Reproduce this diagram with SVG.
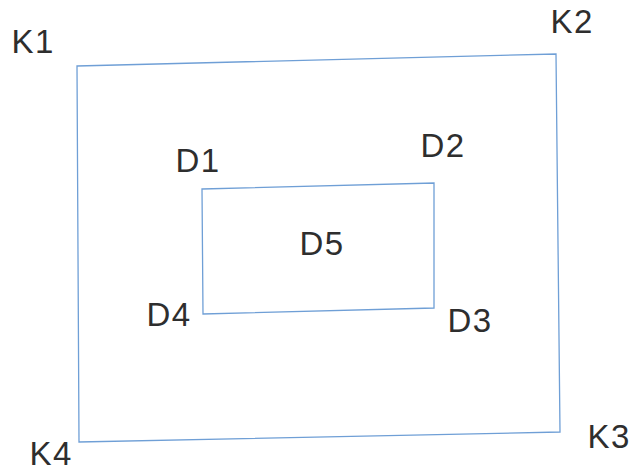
<svg xmlns="http://www.w3.org/2000/svg" width="636" height="473" viewBox="0 0 636 473">
<style>
.edge{fill:none;stroke:#6f9fd6;stroke-width:1.3;stroke-linejoin:miter}
.lbl{font-family:"Liberation Sans",Arial,sans-serif;font-size:33px;fill:#2e2e2e;letter-spacing:1.5px}
</style>
<rect width="636" height="473" fill="#ffffff"/>
<g id="shapes">
<polygon id="outer" class="edge" points="77,66 556,54 560,432 79,442"/>
<polygon id="inner" class="edge" points="202,189 434,183 434,308 203,314"/>
</g>
<g id="labels">
<text class="lbl" x="11.5" y="53">K1</text>
<text class="lbl" x="550.5" y="33">K2</text>
<text class="lbl" x="587.5" y="448">K3</text>
<text class="lbl" x="29.5" y="465">K4</text>
<text class="lbl" x="175.4" y="172">D1</text>
<text class="lbl" x="420.4" y="157">D2</text>
<text class="lbl" x="447.4" y="332">D3</text>
<text class="lbl" x="146.4" y="326">D4</text>
<text class="lbl" x="299.4" y="255">D5</text>
</g>
</svg>
